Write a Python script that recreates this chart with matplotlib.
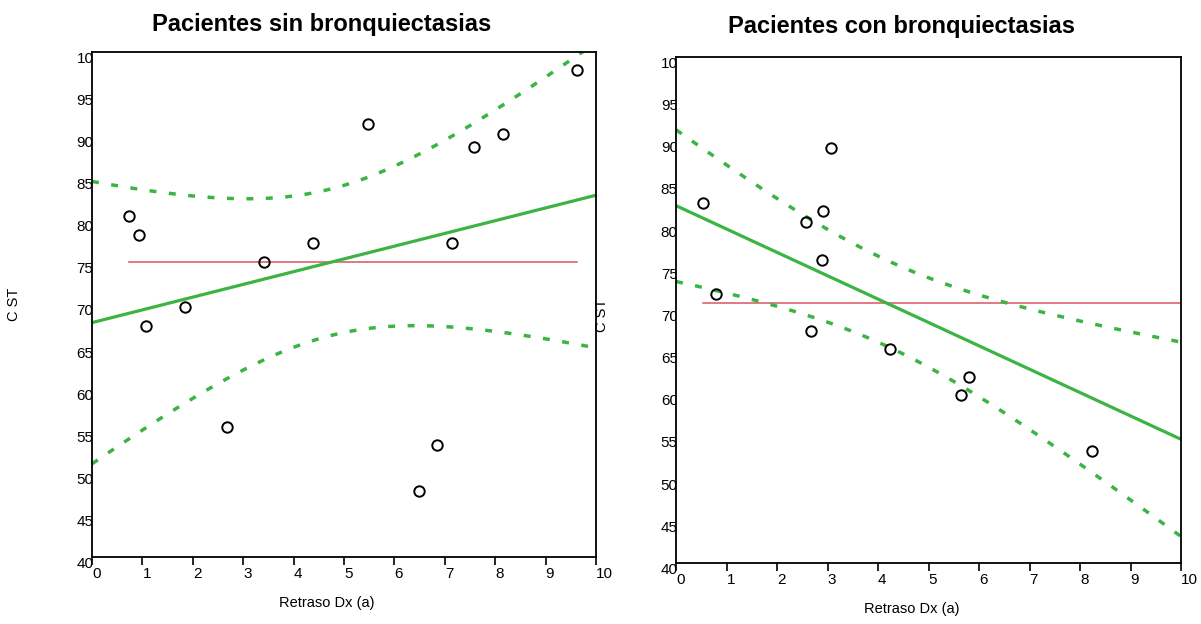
import numpy as np
import matplotlib
matplotlib.use('Agg')
import matplotlib.pyplot as plt
from matplotlib.patches import Rectangle

plt.rcParams['font.family'] = ['Liberation Sans', 'DejaVu Sans']

# datos
sin_x = [0.73, 0.93, 1.07, 1.85, 2.68, 3.41, 4.38, 5.48, 6.49, 6.84, 7.15, 7.58, 8.15, 9.62]
sin_y = [80.5, 78.3, 67.4, 69.7, 55.4, 75.0, 77.3, 91.4, 47.8, 53.3, 77.3, 88.7, 90.3, 97.9]

# el ultimo punto queda fuera del eje (x > 10)
con_x = [0.53, 0.79, 2.57, 2.67, 2.91, 2.89, 3.07, 4.24, 5.64, 5.80, 8.24, 10.76]
con_y = [82.7, 71.9, 80.4, 67.5, 81.7, 75.9, 89.2, 65.4, 59.9, 62.1, 53.3, 59.6]

titulos = ['Pacientes sin bronquiectasias', 'Pacientes con bronquiectasias']
xticks = list(range(0, 11))
yticks = list(range(40, 101, 5))

verde = '#3cb443'
rojo = '#d9535f'


def t975(df):
    tabla = {10: 2.228, 12: 2.179}
    return tabla[df]


def panel(ax, x, y):
    x = np.array(x)
    y = np.array(y)
    n = len(x)
    b, a = np.polyfit(x, y, 1)
    xm = x.mean()
    sxx = ((x - xm) ** 2).sum()
    res = y - (a + b * x)
    s = np.sqrt((res ** 2).sum() / (n - 2))
    xs = np.linspace(0, 10.5, 200)
    yh = a + b * xs
    se = s * np.sqrt(1 / n + (xs - xm) ** 2 / sxx)
    t = t975(n - 2)

    # fondo blanco que tapa parte de las etiquetas del eje y
    ax.add_patch(Rectangle((0, 0), 1, 1, transform=ax.transAxes,
                           facecolor='white', edgecolor='none', zorder=0.8))
    ax.set_axisbelow(True)

    ax.plot([x.min(), x.max()], [y.mean(), y.mean()], color=rojo, lw=1.1, zorder=2)
    ax.plot(xs, yh, color=verde, lw=2.3, zorder=3)
    ax.plot(xs, yh + t * se, color=verde, lw=2.5, dashes=(2, 3.6), zorder=3)
    ax.plot(xs, yh - t * se, color=verde, lw=2.5, dashes=(2, 3.6), zorder=3)
    ax.plot(x, y, 'o', mfc='none', mec='black', mew=1.4, ms=7.5, zorder=4)

    ax.set_xlim(0, 10)
    ax.set_ylim(40, 100)
    ax.set_xticks(xticks)
    ax.set_xticklabels([str(v) for v in xticks], ha='left', fontsize=11)
    ax.set_yticks(yticks)
    ax.set_yticklabels([str(v) for v in yticks], ha='left', va='top', fontsize=11)
    ax.tick_params(axis='x', length=6, width=1.2, pad=1)
    ax.tick_params(axis='y', length=0, pad=11)
    for sp in ax.spines.values():
        sp.set_linewidth(1.3)
        sp.set_zorder(5)
    ax.set_xlabel('Retraso Dx (a)', fontsize=10.5)
    ax.set_ylabel('C ST', fontsize=10.5)


fig = plt.figure(figsize=(12.01, 6.24), dpi=100)
ax1 = fig.add_axes([0.0766, 0.1074, 0.4197, 0.8093])
ax2 = fig.add_axes([0.5629, 0.0978, 0.4205, 0.8109])

panel(ax1, sin_x, sin_y)
panel(ax2, con_x, con_y)

# titulos centrados sobre cada mitad, no sobre el eje
fig.text(322 / 1201, 1 - 24 / 624, titulos[0], ha='center', va='center',
         fontsize=17, fontweight='bold')
fig.text(902 / 1201, 1 - 27 / 624, titulos[1], ha='center', va='center',
         fontsize=17, fontweight='bold')

# la etiqueta del eje y va muy a la izquierda
ax1.yaxis.set_label_coords(-0.140, 0.5)
ax2.yaxis.set_label_coords(-0.133, 0.49)
ax1.xaxis.set_label_coords((327 - 92) / 504, -0.077)
ax2.xaxis.set_label_coords((912 - 676) / 505, -0.077)

fig.savefig('out.png', dpi=100)
